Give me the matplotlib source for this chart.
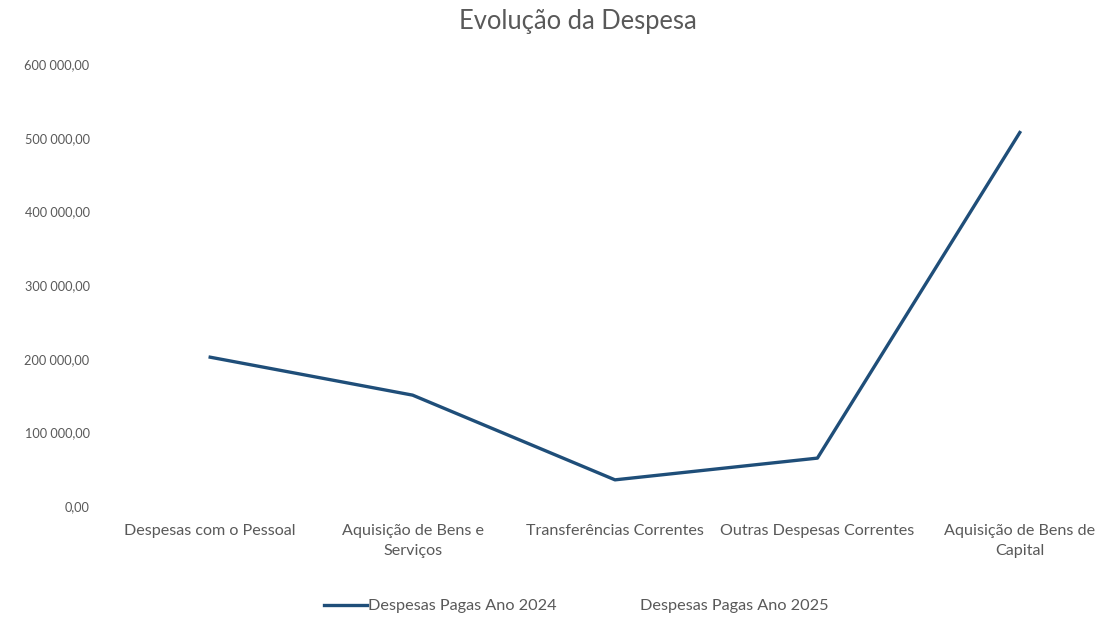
import matplotlib
matplotlib.use("Agg")
import matplotlib.pyplot as plt
import numpy as np

categories = ["Despesas com o Pessoal", "Aquisição de Bens e\nServiços",
              "Transferências Correntes", "Outras Despesas Correntes",
              "Aquisição de Bens de\nCapital"]
despesas_2024 = [202000, 150500, 35500, 65000, 507000]
despesas_2025 = [np.nan, np.nan, np.nan, np.nan, np.nan]
yticks = [0, 100000, 200000, 300000, 400000, 500000, 600000]
ytick_labels = ["0,00", "100 000,00", "200 000,00", "300 000,00",
                "400 000,00", "500 000,00", "600 000,00"]

plt.rcParams['font.family'] = ['Lato', 'DejaVu Sans']
fig = plt.figure(figsize=(11.01, 6.18), dpi=100)
ax = fig.add_axes([109/1101, (618-506)/618, (1121-109)/1101, (506-64)/618])

x = np.arange(len(categories))
ax.plot(x, despesas_2024, color="#1f4e79", lw=2.4, label="Despesas Pagas Ano 2024",
        solid_joinstyle="round")
ax.plot(x, despesas_2025, color="white", lw=2.4, label="Despesas Pagas Ano 2025")

ax.set_xlim(-0.5, len(categories) - 0.5)
ax.set_ylim(0, 600000)
ax.set_yticks(yticks)
ax.set_yticklabels(ytick_labels, fontsize=9.2, color="#595959")
ax.set_xticks(x)
ax.set_xticklabels(categories, fontsize=11.6, color="#595959", linespacing=1.5)
ax.tick_params(length=0)
ax.tick_params(axis='y', pad=14)
ax.tick_params(axis='x', pad=13)
for s in ax.spines.values():
    s.set_visible(False)

fig.text(578/1101, 1 - 22/618, "Evolução da Despesa", ha="center", va="center",
         fontsize=18.4, color="#595959")

leg = fig.legend(loc="center", bbox_to_anchor=(576/1101, 1 - 606/618), ncol=2,
                 frameon=False, fontsize=11.7, handlelength=2.65, handletextpad=0.1,
                 columnspacing=2.35)
for t in leg.get_texts():
    t.set_color("#595959")

fig.savefig("out.png", dpi=100)
